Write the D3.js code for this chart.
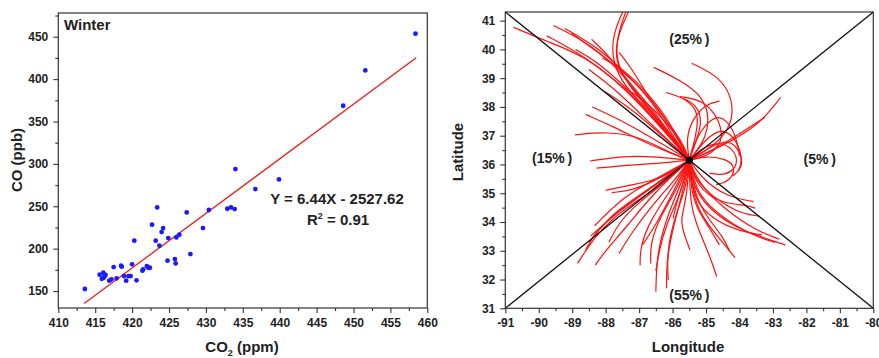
<!DOCTYPE html>
<html>
<head>
<meta charset="utf-8">
<script src="https://cdn.jsdelivr.net/npm/d3@7"></script>
<style>
  body { margin: 0; background: #fff; }
  svg text { font-family: "Liberation Sans", Arial, sans-serif; font-weight: bold; fill: #222; }
</style>
</head>
<body>
<svg id="chart" width="879" height="358"></svg>
<script>
// ---- left panel: winter CO vs CO2 ----
const co2 = [413.6, 458.4, 451.6, 448.6, 439.9, 436.7, 434.0, 432.9, 433.4, 433.9,
  430.4, 429.6, 427.9, 427.4, 426.4, 426.0, 425.9, 425.8, 424.8, 424.9,
  424.2, 424.0, 423.4, 423.2, 423.7, 422.7, 422.4, 422.0, 422.2, 421.5,
  421.4, 420.3, 420.0, 420.6, 419.8, 419.5, 419.2, 418.9, 418.6, 418.5,
  417.5, 417.9, 417.2, 416.9, 416.4, 416.1, 415.9, 415.6, 416.2];
const coValues = [152.4, 453.6, 410.3, 368.6, 281.7, 270.3, 293.9, 247.1, 248.7, 246.7,
  245.6, 224.3, 193.6, 242.8, 216.5, 213.3, 182.6, 187.7, 185.8, 212.5,
  224.3, 219.6, 248.7, 209.4, 203.5, 228.3, 177.5, 179.5, 177.5, 175.6,
  174.0, 209.4, 181.5, 162.6, 167.7, 167.7, 162.2, 167.7, 178.7, 179.9,
  178.3, 164.9, 163.8, 162.2, 168.9, 171.6, 164.5, 169.3, 166.0];
const fitSlope = 6.44, fitIntercept = -2527.62, fitRange = [413.5, 458.5];
const xTicksL = [410, 415, 420, 425, 430, 435, 440, 445, 450, 455, 460];
const yTicksL = [150, 200, 250, 300, 350, 400, 450];

// ---- right panel: back trajectories (lon, lat), each starts at the receptor ----
const receptor = [-85.5, 36.15];
const trajNW = [
  [[-86.37,37.32],[-87.37,38.59],[-88.57,39.75],[-89.76,40.28],[-90.76,40.77]],
  [[-86.17,37.08],[-86.97,38.36],[-87.77,39.52],[-88.67,40.33],[-89.56,40.83]],
  [[-85.98,36.97],[-86.57,38.13],[-87.37,39.17],[-88.27,40.10],[-89.22,40.73]],
  [[-86.27,37.78],[-87.17,38.94],[-88.17,39.86],[-89.02,40.56]],
  [[-85.88,36.74],[-86.57,37.89],[-87.37,38.94],[-87.87,39.75],[-88.42,40.35]],
  [[-86.47,37.55],[-87.57,38.82],[-88.77,39.86],[-89.76,40.47]],
  [[-86.0,37.0],[-86.8,38.0],[-87.6,38.9],[-88.3,39.6],[-88.9,40.0]],
  [[-85.9,37.1],[-86.4,38.0],[-87.0,38.8],[-87.6,39.4],[-88.1,39.7]],
  [[-85.8,36.9],[-86.3,37.6],[-86.9,38.3],[-87.5,38.7]],
  [[-86.1,36.8],[-86.9,37.7],[-87.8,38.7],[-88.5,39.3]],
  [[-85.7,36.8],[-86.2,37.5],[-86.8,38.5],[-87.2,39.3],[-87.6,39.9]],
  [[-86.17,36.85],[-87.17,37.89],[-88.02,38.53]],
  [[-86.57,36.62],[-87.77,37.32],[-88.6,37.74]],
  [[-86.3,36.7],[-87.3,37.4],[-88.4,38.0]],
  [[-86.07,36.39],[-86.97,36.97],[-87.97,37.14],[-88.92,37.03]],
  [[-86.48,36.27],[-87.47,36.3],[-88.47,36.12]],
  [[-86.37,36.04],[-87.37,35.98],[-88.27,35.87]]
];
const trajN = [
  [[-85.88,36.74],[-86.47,37.66],[-87.17,38.59],[-87.62,39.29],[-87.72,39.98],[-87.57,40.68],[-87.32,41.3]],
  [[-86.17,37.08],[-86.97,38.13],[-87.57,38.94],[-87.82,39.75],[-87.77,40.56],[-87.49,41.3]],
  [[-86.0,36.9],[-86.7,37.9],[-87.35,38.8],[-87.7,39.6],[-87.65,40.5],[-87.4,41.3]],
  [[-85.08,36.74],[-84.88,37.55],[-85.08,38.36],[-85.78,38.94],[-86.57,39.38]],
  [[-84.78,36.62],[-84.23,37.32],[-84.18,38.24],[-84.58,39.05],[-85.43,39.52]],
  [[-84.98,36.27],[-84.48,36.74],[-84.58,37.55],[-85.08,38.24],[-85.78,38.36]],
  [[-85.3,36.8],[-85.1,37.5],[-85.3,38.1],[-85.7,38.3]],
  [[-85.3,37.0],[-85.2,37.8],[-85.6,38.3],[-86.2,38.5]],
  [[-85.6,36.9],[-85.4,37.6],[-85.0,38.1],[-84.6,38.2]]
];
const trajE = [
  [[-84.98,36.39],[-84.18,36.85],[-83.38,37.43],[-82.77,38.33]],
  [[-84.78,36.5],[-83.98,37.08],[-83.24,37.64]],
  [[-84.9,36.6],[-84.3,36.9],[-83.95,36.4],[-83.9,35.9],[-84.2,35.6]],
  [[-85.0,36.9],[-84.5,37.3],[-84.05,36.8],[-83.9,36.1],[-84.05,35.75]],
  [[-85.2,36.5],[-84.7,36.8],[-84.2,36.6],[-84.0,36.0],[-84.4,35.6],[-84.9,35.7]],
  [[-85.0,36.3],[-84.4,36.2],[-84.1,35.9],[-84.3,35.4],[-84.7,35.3]],
  [[-85.3,36.95],[-84.8,37.7],[-84.4,37.6],[-84.1,37.0],[-84.0,36.3]]
];
const trajSE = [
  [[-85.38,35.23],[-84.98,34.53],[-84.18,33.84],[-83.38,33.49],[-82.62,33.2]],
  [[-85.28,35.0],[-84.68,34.3],[-83.78,33.61],[-82.94,33.29]],
  [[-85.38,34.77],[-84.78,34.07],[-83.98,33.67],[-83.33,33.55]],
  [[-85.28,35.23],[-84.58,34.65],[-83.78,34.59],[-83.53,34.48]],
  [[-85.08,35.46],[-84.38,34.88],[-83.58,34.71]],
  [[-85.38,34.77],[-84.98,33.95],[-84.48,33.26],[-84.13,32.76]],
  [[-85.48,34.53],[-85.18,33.61],[-84.88,32.8],[-84.68,32.1]],
  [[-85.58,34.77],[-85.78,34.07],[-85.63,33.49],[-85.48,33.03]],
  [[-85.3,35.4],[-84.7,34.8],[-84.0,34.3],[-83.4,34.2]],
  [[-85.2,35.3],[-84.4,34.4],[-83.5,33.7],[-82.8,33.4]],
  [[-85.45,35.2],[-85.3,34.5],[-84.9,33.8],[-84.6,33.2]],
  [[-85.35,35.0],[-85.0,34.2],[-84.5,33.5],[-84.3,33.0]]
];
const trajSW = [
  [[-85.78,35.23],[-86.17,34.19],[-86.47,32.91],[-86.5,31.58]],
  [[-85.68,35.11],[-85.98,33.84],[-86.18,32.68],[-86.18,31.7]],
  [[-85.58,35.23],[-85.97,34.07],[-86.17,32.91],[-86.13,31.98]],
  [[-85.98,35.23],[-86.67,34.07],[-86.97,33.14],[-86.97,32.5]],
  [[-85.88,35.11],[-86.37,34.19],[-86.67,33.26],[-86.65,32.56]],
  [[-86.37,35.23],[-87.37,34.53],[-88.27,33.61],[-88.84,32.56]],
  [[-86.47,35.35],[-87.47,34.53],[-88.27,33.72],[-88.6,33.03]],
  [[-86.57,35.46],[-87.47,34.88],[-88.33,33.87]],
  [[-86.57,35.23],[-87.57,34.42],[-88.45,33.51]],
  [[-86.57,35.0],[-87.37,33.84],[-88.07,32.91],[-88.31,32.5]],
  [[-86.47,35.46],[-87.17,35.11],[-87.82,35.02]],
  [[-86.2,35.4],[-87.0,34.7],[-87.6,34.0],[-87.9,33.3]],
  [[-86.1,35.6],[-86.9,35.0],[-87.8,34.3],[-88.5,33.3]],
  [[-85.7,35.3],[-85.9,34.6],[-85.98,34.13]],
  [[-86.0,35.0],[-86.5,33.9],[-86.9,33.2]],
  [[-85.75,35.0],[-86.2,33.9],[-86.4,33.0],[-86.5,32.3]],
  [[-86.3,35.5],[-87.2,35.3],[-88.0,35.1]],
  [[-85.9,35.5],[-86.6,34.6],[-87.3,33.5],[-87.6,32.9]]
];
const sectorLabels = [
  { text: "(25%\u2009)", lon: -85.5, lat: 40.2 },
  { text: "(15%\u2009)", lon: -89.6, lat: 36.05 },
  { text: "(5%\u2009)", lon: -81.6, lat: 36.0 },
  { text: "(55%\u2009)", lon: -85.5, lat: 31.3 }
];
const xTicksR = d3.range(-91, -79, 1);
const yTicksR = d3.range(31, 42, 1);

const svg = d3.select("#chart");

function frame(g, x, y) {
  const [x0, x1] = x.range(), [y0, y1] = y.range();
  g.append("rect")
    .attr("x", x0).attr("y", y1)
    .attr("width", x1 - x0).attr("height", y0 - y1)
    .attr("fill", "none").attr("stroke", "#333").attr("stroke-width", 1.2);
}

function axes(g, x, y, xt, yt, xMinor, yMinor, fmt) {
  const y0 = y.range()[0];
  const bx = g.append("g").attr("transform", `translate(0,${y0})`)
    .call(d3.axisBottom(x).tickValues(xt).tickSize(5).tickPadding(5).tickFormat(fmt));
  const bxm = g.append("g").attr("transform", `translate(0,${y0})`)
    .call(d3.axisBottom(x).tickValues(xMinor).tickSize(3).tickFormat(""));
  const ly = g.append("g").attr("transform", `translate(${x.range()[0]},0)`)
    .call(d3.axisLeft(y).tickValues(yt).tickSize(5).tickPadding(5).tickFormat(fmt));
  const lym = g.append("g").attr("transform", `translate(${x.range()[0]},0)`)
    .call(d3.axisLeft(y).tickValues(yMinor).tickSize(3).tickFormat(""));
  [bx, bxm, ly, lym].forEach(a => {
    a.select(".domain").remove();
    a.selectAll("line").attr("stroke", "#333").attr("stroke-width", 1.1);
    a.selectAll("text").attr("font-size", 12).attr("font-family", null).attr("fill", "#222");
  });
}

// ---- left panel ----
const xL = d3.scaleLinear().domain([410, 460]).range([58.3, 427.3]);
const yL = d3.scaleLinear().domain([130, 478]).range([308, 13]);
const left = svg.append("g");

axes(left, xL, yL, xTicksL, yTicksL,
  d3.range(412.5, 460, 5), d3.range(175, 478, 50), d => String(d));
frame(left, xL, yL);

left.append("line")
  .attr("x1", xL(fitRange[0])).attr("y1", yL(fitSlope * fitRange[0] + fitIntercept))
  .attr("x2", xL(fitRange[1])).attr("y2", yL(fitSlope * fitRange[1] + fitIntercept))
  .attr("stroke", "#ee1c1c").attr("stroke-width", 1.3);

left.selectAll("circle.pt").data(d3.zip(co2, coValues)).join("circle")
  .attr("class", "pt")
  .attr("cx", d => xL(d[0])).attr("cy", d => yL(d[1]))
  .attr("r", 2.4).attr("fill", "#1a1aff");

left.append("text").attr("x", 64).attr("y", 30).attr("font-size", 15).text("Winter");
left.append("text").attr("x", 337).attr("y", 204).attr("font-size", 15)
  .attr("text-anchor", "middle").text("Y = 6.44X - 2527.62");
const r2 = left.append("text").attr("x", 338).attr("y", 225).attr("font-size", 15)
  .attr("text-anchor", "middle");
r2.append("tspan").text("R");
r2.append("tspan").attr("font-size", 9).attr("dy", -6).text("2");
r2.append("tspan").attr("dy", 6).text(" = 0.91");

left.append("text").attr("transform", "translate(22,160) rotate(-90)")
  .attr("text-anchor", "middle").attr("font-size", 15).text("CO (ppb)");
const xt = left.append("text").attr("x", 242).attr("y", 352)
  .attr("text-anchor", "middle").attr("font-size", 15);
xt.append("tspan").text("CO");
xt.append("tspan").attr("font-size", 9).attr("dy", 4).text("2");
xt.append("tspan").attr("dy", -4).text(" (ppm)");

// ---- right panel ----
const xR = d3.scaleLinear().domain([-91, -80]).range([505.3, 873.3]);
const yR = d3.scaleLinear().domain([31, 41.3]).range([308.3, 12]);
const right = svg.append("g");

axes(right, xR, yR, xTicksR, yTicksR,
  d3.range(-90.5, -80, 1), d3.range(31.5, 41.3, 1), d => String(d));

const line = d3.line().x(d => xR(d[0])).y(d => yR(d[1])).curve(d3.curveBasis);
const allTraj = [].concat(trajNW, trajN, trajE, trajSE, trajSW).map(t => [receptor].concat(t));
right.selectAll("path.traj").data(allTraj).join("path")
  .attr("class", "traj")
  .attr("d", line)
  .attr("fill", "none").attr("stroke", "#ff1010").attr("stroke-width", 1.2);

// sector dividers
const [lonMin, lonMax] = xR.domain(), [latMin, latMax] = yR.domain();
right.append("line")
  .attr("x1", xR(lonMin)).attr("y1", yR(latMax)).attr("x2", xR(lonMax)).attr("y2", yR(latMin))
  .attr("stroke", "#111").attr("stroke-width", 1.3);
right.append("line")
  .attr("x1", xR(lonMin)).attr("y1", yR(latMin)).attr("x2", xR(lonMax)).attr("y2", yR(latMax))
  .attr("stroke", "#111").attr("stroke-width", 1.3);
frame(right, xR, yR);

right.append("circle").attr("cx", xR(receptor[0])).attr("cy", yR(receptor[1]))
  .attr("r", 3.6).attr("fill", "#000");

right.selectAll("text.sector").data(sectorLabels).join("text")
  .attr("class", "sector")
  .attr("x", d => xR(d.lon)).attr("y", d => yR(d.lat))
  .attr("text-anchor", "middle").attr("font-size", 14).text(d => d.text);

right.append("text").attr("transform", "translate(463,152) rotate(-90)")
  .attr("text-anchor", "middle").attr("font-size", 15).text("Latitude");
right.append("text").attr("x", 688).attr("y", 352)
  .attr("text-anchor", "middle").attr("font-size", 15).text("Longitude");
</script>
</body>
</html>
